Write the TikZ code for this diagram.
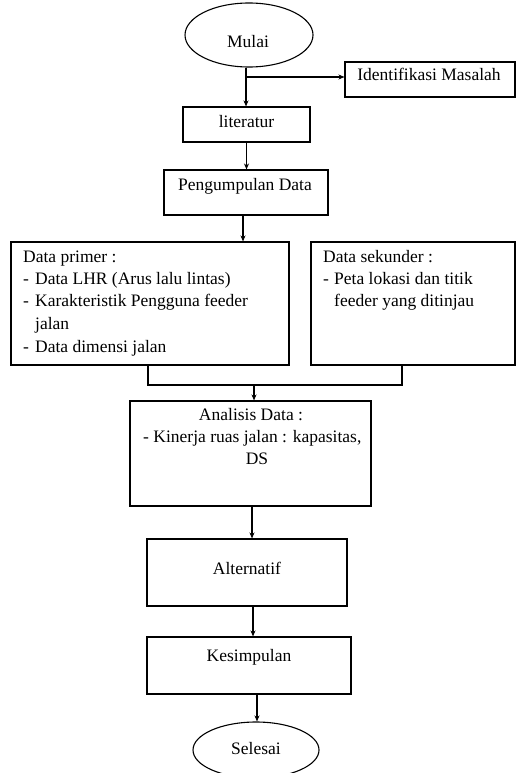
\documentclass[tikz,border=0pt]{standalone}
\usepackage{fontspec}
\setmainfont{Liberation Serif}
\usetikzlibrary{shapes.geometric,arrows.meta}
\begin{document}
\begin{tikzpicture}[x=1pt,y=-1pt,
  every node/.style={font=\fontsize{17.5}{22.5}\selectfont},
  box/.style={draw, line width=1.1pt, inner sep=0pt, rectangle},
  oval/.style={draw, line width=1.1pt, inner sep=0pt, ellipse},
  txt/.style={inner sep=0pt, anchor=mid},
  ltxt/.style={inner sep=0pt, anchor=mid west},
  line/.style={line width=1.1pt},
  arr/.style={line width=1.1pt, -{Stealth[length=6pt,width=5pt]}}]
\useasboundingbox (0,0) rectangle (518,773);
\fill[white] (0,0) rectangle (518,773);

% shapes
\node[oval, minimum width=128pt, minimum height=64pt] (mulai) at (249,35) {};
\node[txt] (tmulai) at (248,45) {Mulai};
\node[box, minimum width=170pt, minimum height=35pt] (ident) at (430,79.5) {};
\node[txt] (tident) at (429,78.5) {Identifikasi Masalah};
\node[box, minimum width=127pt, minimum height=35pt] (lit) at (246.5,124.5) {};
\node[txt] (tlit) at (246.5,125.5) {literatur};
\node[box, minimum width=164pt, minimum height=45pt] (peng) at (246,192.5) {};
\node[txt] (tpeng) at (245,188.5) {Pengumpulan Data};

\node[box, minimum width=278pt, minimum height=123pt] (prim) at (150,303.5) {};
\node[ltxt] (p0) at (23,260) {Data primer :};
\node[ltxt] (p1d) at (23,282) {-};
\node[ltxt] (p1) at (35,282) {Data LHR (Arus lalu lintas)};
\node[ltxt] (p2d) at (23,304) {-};
\node[ltxt] (p2) at (35,304) {Karakteristik Pengguna feeder};
\node[ltxt] (p3) at (35,327) {jalan};
\node[ltxt] (p4d) at (23,350) {-};
\node[ltxt] (p4) at (35,350) {Data dimensi jalan};

\node[box, minimum width=204pt, minimum height=123pt] (sek) at (413,303.5) {};
\node[ltxt] (s0) at (323,260) {Data sekunder :};
\node[ltxt] (s1d) at (323,282) {-};
\node[ltxt] (s1) at (334,282) {Peta lokasi dan titik};
\node[ltxt] (s2) at (334,304) {feeder yang ditinjau};

\node[box, minimum width=241pt, minimum height=105pt] (anal) at (250.5,453.5) {};
\node[txt] (a0) at (251,418) {Analisis Data :};
\node[ltxt] (a1) at (143,440) {- Kinerja ruas jalan : kapasitas,};
\node[txt] (a2) at (257,462) {DS};

\node[box, minimum width=200pt, minimum height=67pt] (alt) at (247,572.5) {};
\node[txt] (talt) at (247,572) {Alternatif};
\node[box, minimum width=204pt, minimum height=57pt] (kes) at (249,665.5) {};
\node[txt] (tkes) at (249,659) {Kesimpulan};
\node[oval, minimum width=126pt, minimum height=56pt] (sel) at (256,750) {};
\node[txt] (tsel) at (256,752) {Selesai};

% connectors
\coordinate (br) at (246,77);
\draw[arr] ([xshift=-3pt]mulai.south) -- ([xshift=-3pt]mulai.south |- lit.north);
\draw[arr] (br) -- (br -| ident.west);
\draw[arr] (lit.south) -- (lit.south |- peng.north);
\draw[arr] ([xshift=-3pt]peng.south) -- ([xshift=-3pt]peng.south |- prim.north);
\coordinate (mj) at (254,385);
\draw[line] ([xshift=-2pt]prim.south) |- (mj) -| ([xshift=-11pt]sek.south);
\draw[arr] (mj) -- (mj |- anal.north);
\draw[arr] ([xshift=1.5pt]anal.south) -- ([xshift=1.5pt]anal.south |- alt.north);
\draw[arr] ([xshift=6pt]alt.south) -- ([xshift=6pt]alt.south |- kes.north);
\draw[arr] ([xshift=8pt]kes.south) -- ([xshift=8pt]kes.south |- sel.north);
\end{tikzpicture}
\end{document}
